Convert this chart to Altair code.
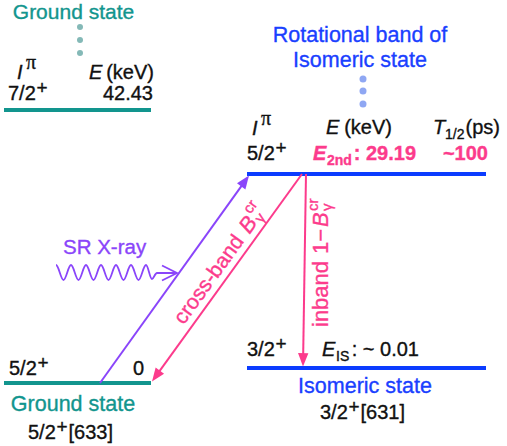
import math
import altair as alt
import pandas as pd

W, H = 507, 446

TEAL = "#12958e"
TEAL_DOT = "#84b9b7"
BLUE = "#0b3cff"
BLUE_TEXT = "#1a40ff"
BLUE_DOT = "#8fa7f3"
PINK = "#fc3b8c"
PURPLE = "#8a45fa"
INK = "#111111"
SANS = "Liberation Sans"
SERIF = "Liberation Serif"

# ---------------- level scheme ----------------
level_id = ["gs", "gs_rot", "is", "is_rot"]
level_spin = ["5/2", "7/2", "3/2", "5/2"]
level_energy = ["0", "42.43", "~ 0.01", "29.19"]
level_color = [TEAL, TEAL, BLUE, BLUE]
state_names = ["Ground state", "Isomeric state", "Rotational band of"]
nilsson = {"gs": "[633]", "is": "[631]"}
half_life = "~100"

# where each level line sits in the drawing
level_x0 = [4, 4, 247, 247]
level_x1 = [151, 151, 486, 486]
level_y = [383, 110, 368, 174]

# ---------------- transitions ----------------
trans_from = ["gs", "is_rot", "is_rot"]
trans_to = ["is_rot", "gs", "is"]
trans_color = [PURPLE, PINK, PINK]
trans_x_from = [100, 302, 306]
trans_x_to = [249, 152, 303]

LY = dict(zip(level_id, level_y))
SPIN = dict(zip(level_id, level_spin))
EN = dict(zip(level_id, level_energy))

xs = alt.Scale(domain=[0, W], nice=False, zero=False)
ys = alt.Scale(domain=[0, H], nice=False, zero=False, reverse=True)


def X(f):
    return alt.X(f"{f}:Q", scale=xs, axis=None)


def Y(f):
    return alt.Y(f"{f}:Q", scale=ys, axis=None)


# level lines
levels = pd.DataFrame(dict(id=level_id, x0=level_x0, x1=level_x1, y=level_y, color=level_color))
level_layer = alt.Chart(levels).mark_rule(strokeWidth=4, strokeCap="butt").encode(
    x=X("x0"), x2="x1:Q", y=Y("y"), color=alt.Color("color:N", scale=None)
)

# transition arrows: shaft + filled head whose tip sits on the target level
tr_rows = []
for f, t, c, xf, xt in zip(trans_from, trans_to, trans_color, trans_x_from, trans_x_to):
    yf, yt = LY[f], LY[t]
    sgn = 1 if yt > yf else -1
    yt_tip = yt - 1.5 * sgn
    dx, dy = xt - xf, yt_tip - yf
    L = math.hypot(dx, dy)
    ux, uy = dx / L, dy / L
    head = (math.degrees(math.atan2(dx, -dy)) + 360) % 360
    tr_rows.append(dict(xa=xf, ya=yf, xb=xt - 6 * ux, yb=yt_tip - 6 * uy,
                        xt=xt, yt=yt_tip, head=head, color=c))
trans = pd.DataFrame(tr_rows)
shaft_layer = alt.Chart(trans).mark_rule(strokeWidth=2).encode(
    x=X("xa"), y=Y("ya"), x2="xb:Q", y2="yb:Q", color=alt.Color("color:N", scale=None)
)
ARROW = "M0,0L0.62,1.6L-0.62,1.6Z"
head_layer = alt.Chart(trans).mark_point(
    shape=ARROW, filled=True, size=280, opacity=1, strokeWidth=0
).encode(
    x=X("xt"), y=Y("yt"), angle=alt.Angle("head:Q", scale=None),
    color=alt.Color("color:N", scale=None),
)

# dotted continuation of the rotational bands
dot_x = [80, 80, 80, 363, 363, 363]
dot_y = [27, 40, 53, 79, 91, 104]
dot_c = [TEAL_DOT] * 3 + [BLUE_DOT] * 3
dot_s = [36] * 3 + [49] * 3
dots = pd.DataFrame(dict(x=dot_x, y=dot_y, color=dot_c, size=dot_s))
dot_layer = alt.Chart(dots).mark_circle(opacity=1).encode(
    x=X("x"), y=Y("y"), color=alt.Color("color:N", scale=None),
    size=alt.Size("size:Q", scale=None),
)

# SR X-ray photon: wavy line ending in an open arrow at the excitation line
half = "c2.73,0 4.77,15 7.5,15 c2.73,0 4.77,-15 7.5,-15 "
WAVE = ("M0,0 " + half * 6 +
        "c2.2,0 3.8,14 6,14 c1.6,0 3,-6 5,-6 l20,0 m-15,-7.5 l15,7.5 l-15,7.5")
wave = pd.DataFrame(dict(x=[56], y=[265]))
wave_layer = alt.Chart(wave).mark_point(
    shape=WAVE, filled=False, size=4, opacity=1, strokeWidth=1.8, color=PURPLE
).encode(x=X("x"), y=Y("y"))

# ---------------- text ----------------
rows = []


def put(text, x, y, size=20, color=INK, align="left", font=SANS,
        style="normal", weight="normal", angle=0):
    rows.append(dict(text=text, x=x, y=y, size=size, color=color, align=align,
                     font=font, style=style, weight=weight, angle=angle))


def spin(lid, x, y, color=INK, tail=None):
    put(SPIN[lid], x, y, color=color)
    put("+", x + 28.5, y - 6, size=19, color=color)
    if tail:
        put(tail, x + 40.5, y, color=color)


def ipi(x, y):
    put("I", x, y, style="italic")
    put("π", x + 9, y - 10, size=20, font=SERIF)


# ground-state band, upper level
put(state_names[0], 73.5, 19, size=21, color=TEAL, align="center")
ipi(17, 79)
put("E", 89, 79, style="italic")
put("(keV)", 154, 79, align="right")
spin("gs_rot", 8, 100)
put(EN["gs_rot"], 153, 100, align="right")

# rotational band of the isomer
put(state_names[2], 360, 42, size=21.5, color=BLUE_TEXT, align="center")
put(state_names[1], 360, 67, size=21.5, color=BLUE_TEXT, align="center")
ipi(252, 135)
put("E", 326, 134, style="italic")
put("(keV)", 392, 134, align="right")
put("T", 433, 134, style="italic")
put("1/2", 445, 139, size=14)
put("(ps)", 500, 134, align="right")
spin("is_rot", 247, 160)
put("E", 313, 160, color=PINK, style="italic", weight="bold")
put("2nd", 327, 165, size=14, color=PINK, weight="bold")
put(": " + EN["is_rot"], 416, 160, color=PINK, weight="bold", align="right")
put(half_life, 488, 160, color=PINK, weight="bold", align="right")

# ground state
spin("gs", 9, 375)
put(EN["gs"], 144, 375, align="right")
put(state_names[0], 73, 411, size=21.5, color=TEAL, align="center")
spin("gs", 28, 439, tail=nilsson["gs"])

# isomeric state
spin("is", 247, 356)
put("E", 322, 356, style="italic")
put("IS", 336, 361, size=14)
put(": " + EN["is"], 419, 356, align="right")
put(state_names[1], 365, 393, size=21.5, color=BLUE_TEXT, align="center")
spin("is", 320, 419, tail=nilsson["is"])

# photon label
put("SR X-ray", 63, 254, size=20.5, color=PURPLE)

# cross-band label, written along the de-excitation line
cb = tr_rows[1]
ox, oy = cb["xa"], cb["ya"]
dx, dy = cb["xa"] - cb["xt"], cb["ya"] - cb["yt"]
L = math.hypot(dx, dy)
ux, uy = dx / L, dy / L
nx, ny = -uy, ux
ang = (math.degrees(math.atan2(uy, ux)) + 360) % 360


def along(text, a, n, **kw):
    put(text, ox + a * ux + n * nx, oy + a * uy + n * ny, angle=ang, color=PINK, **kw)


along("cross-band", -192, -7, size=21)
along("B", -80, -7, size=22, style="italic")
along("γ", -64, -3.5, size=15)
along("cr", -63, -18, size=15)

# in-band label, vertical beside the in-band line
put("inband", 328, 327, size=22, color=PINK, angle=270)
put("1−", 328, 254, size=22, color=PINK, angle=270)
put("B", 328, 227, size=22, color=PINK, angle=270, style="italic")
put("γ", 331.5, 211, size=15, color=PINK, angle=270)
put("cr", 317.5, 211, size=15, color=PINK, angle=270)

texts = pd.DataFrame(rows)
text_layers = []
for (al, fo, st, we), sub in texts.groupby(["align", "font", "style", "weight"]):
    text_layers.append(
        alt.Chart(sub).mark_text(
            align=al, baseline="alphabetic", font=fo, fontStyle=st, fontWeight=we,
            strokeWidth=0.35,
        ).encode(
            x=X("x"), y=Y("y"), text="text:N",
            color=alt.Color("color:N", scale=None),
            stroke=alt.Stroke("color:N", scale=None),
            size=alt.Size("size:Q", scale=None),
            angle=alt.Angle("angle:Q", scale=None),
        )
    )

chart = alt.layer(
    level_layer, shaft_layer, head_layer, dot_layer, wave_layer, *text_layers
).properties(
    width=W, height=H, padding=0, autosize="none", background="white"
).configure_view(stroke=None)

chart.save("out.html", embed_options={"renderer": "svg", "actions": False})
